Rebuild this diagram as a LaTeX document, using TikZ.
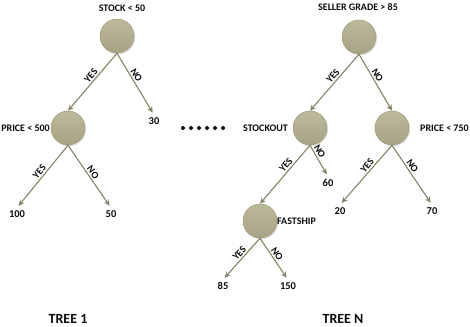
\documentclass[tikz,border=0pt]{standalone}
\usepackage{fontspec}
\setmainfont{Carlito}
\usetikzlibrary{arrows.meta,positioning,shadows}
\definecolor{splittop}{HTML}{BCB99C}
\definecolor{splitbot}{HTML}{A7A384}
\definecolor{splitline}{HTML}{9E9A7C}
\definecolor{branch}{HTML}{858267}
\definecolor{ink}{HTML}{0B0B0B}
\tikzset{
  >={Stealth[length=6pt,width=5.5pt]},
  every picture/.style={line cap=round, line join=round},
  split/.style={circle, minimum size=34pt, inner sep=0pt, draw=splitline, line width=0.5pt,
    top color=splittop, bottom color=splitbot,
    drop shadow={shadow xshift=1.2pt, shadow yshift=-1.2pt, opacity=0.25}},
  cond/.style={font=\fontsize{10}{12}\selectfont\bfseries, text=ink, inner sep=1pt},
  leaf/.style={font=\fontsize{10.5}{12}\selectfont\bfseries, text=ink, inner sep=2.5pt},
  edgetxt/.style={font=\fontsize{10}{12}\selectfont\bfseries, text=ink, sloped, above, inner sep=1.5pt},
  arr/.style={->, draw=branch, line width=1.1pt},
  leafarr/.style={arr, shorten >=2.5pt},
  title/.style={font=\fontsize{14}{16}\selectfont\bfseries, text=ink},
}
\begin{document}
\begin{tikzpicture}[x=1pt, y=-1pt]
  \useasboundingbox (0,0) rectangle (470,326);
  % ===================== tree 1 =====================
  \node[split] (t1root) at (117,36) {};
  \node[cond] (t1rootlbl) at (122,8) {STOCK < 50};
  \node[split] (t1price) at (68,128) {};
  \node[cond, anchor=east] (t1pricelbl) at (51,128) {PRICE < 500};
  \node[leaf] (t1l30) at (154,121) {30};
  \node[leaf] (t1l100) at (17,214) {100};
  \node[leaf] (t1l50) at (111,214) {50};
  \draw[arr] (t1root.south) -- node[edgetxt, pos=0.45] {YES} (t1price.north);
  \draw[leafarr] (t1root.south) -- node[edgetxt, pos=0.4] {NO} (t1l30.north);
  \draw[leafarr] (t1price.south) -- node[edgetxt, pos=0.48] {YES} (t1l100.north);
  \draw[leafarr] (t1price.south) -- node[edgetxt, pos=0.48] {NO} (t1l50.north);
  \node[title] (t1title) at (68,319) {TREE 1};

  % the dots between the trees
  \foreach \k in {0,...,5}{\fill[ink] (183+8*\k,128) circle (2pt);}

  % ===================== tree N =====================
  \node[split] (tnroot) at (359,37) {};
  \node[cond] (tnrootlbl) at (358,7) {SELLER GRADE > 85};
  \node[split] (tnstock) at (310,128) {};
  \node[cond, anchor=east] (tnstocklbl) at (289,128) {STOCKOUT};
  \node[split] (tnprice) at (392,128) {};
  \node[cond, anchor=west] (tnpricelbl) at (419,128) {PRICE < 750};
  \node[split] (tnfast) at (260,221) {};
  \node[cond, anchor=west] (tnfastlbl) at (276,221) {FASTSHIP};
  \node[leaf] (tnl60) at (328,183) {60};
  \node[leaf] (tnl20) at (340,211) {20};
  \node[leaf] (tnl70) at (432,211) {70};
  \node[leaf] (tnl85) at (223,286) {85};
  \node[leaf] (tnl150) at (288,286) {150};
  \draw[arr] (tnroot.south) -- node[edgetxt, pos=0.45] {YES} (tnstock.north);
  \draw[arr] (tnroot.south) -- node[edgetxt, pos=0.42] {NO} (tnprice.north);
  \draw[leafarr] (tnstock.south) -- node[edgetxt, pos=0.28] {NO} (tnl60.north);
  \draw[arr] (tnstock.south) -- node[edgetxt, pos=0.4] {YES} (tnfast.north);
  \draw[leafarr] (tnprice.south) -- node[edgetxt, pos=0.4] {YES} (tnl20.north);
  \draw[leafarr] (tnprice.south) -- node[edgetxt, pos=0.4] {NO} (tnl70.north);
  \draw[leafarr] (tnfast.south) -- node[edgetxt, pos=0.45] {YES} (tnl85.north);
  \draw[leafarr] (tnfast.south) -- node[edgetxt, pos=0.45] {NO} (tnl150.north);
  \node[title] (tntitle) at (343,319) {TREE N};
\end{tikzpicture}
\end{document}
